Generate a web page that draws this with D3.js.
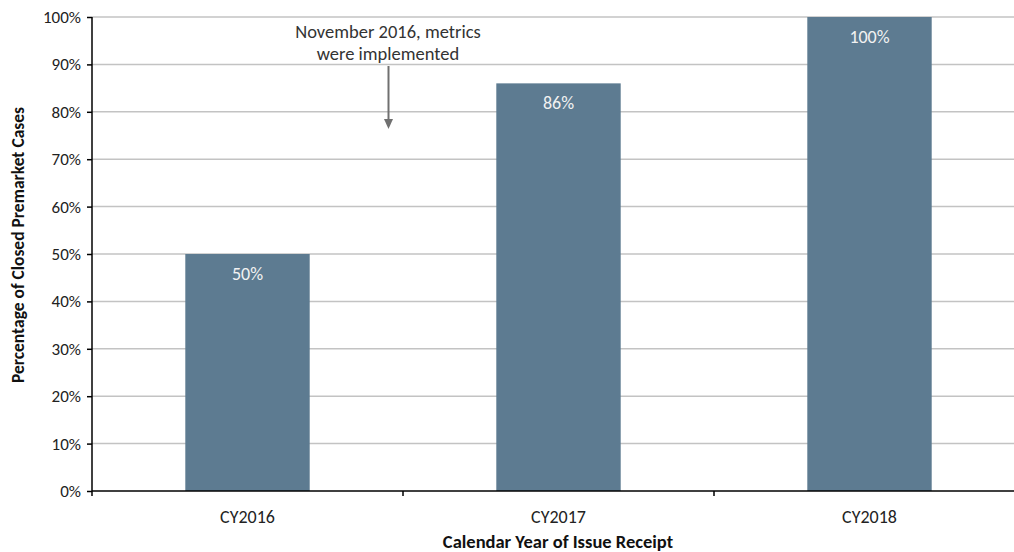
<!DOCTYPE html>
<html>
<head>
<meta charset="utf-8">
<script src="https://cdnjs.cloudflare.com/ajax/libs/d3/7.8.5/d3.min.js"></script>
<style>
  body { margin: 0; background: #fff; }
  text { font-family: Carlito, Calibri, Lato, "Open Sans", sans-serif; }
</style>
</head>
<body>
<svg id="chart"></svg>
<script>
// data
var categories = ["CY2016", "CY2017", "CY2018"];
var values = [50, 86, 100];
var yTicks = [0, 10, 20, 30, 40, 50, 60, 70, 80, 90, 100];
var noteLines = ["November 2016, metrics", "were implemented"];

var width = 1014, height = 552;
var plotLeft = 92, plotRight = 1025, plotTop = 17, plotBottom = 491;
var BarColor = "#5d7b91", GridColor = "#c3c3c3", TextColor = "#222", ArrowColor = "#707070";
var fontSize = "18px";

var svg = d3.select("#chart")
    .attr("width", width)
    .attr("height", height);

var x = d3.scaleBand()
    .domain(categories)
    .range([plotLeft, plotRight])
    .paddingInner(0.6)
    .paddingOuter(0.3);

var y = d3.scaleLinear()
    .domain([0, 100])
    .range([plotBottom, plotTop]);

// gridlines
svg.append("g")
    .selectAll("line")
    .data(yTicks.filter(function(d) { return d > 0; }))
    .enter().append("line")
    .attr("x1", plotLeft)
    .attr("x2", plotRight)
    .attr("y1", function(d) { return y(d); })
    .attr("y2", function(d) { return y(d); })
    .attr("stroke", GridColor)
    .attr("stroke-width", 1.5);

// bars
svg.append("g")
    .selectAll("rect")
    .data(values)
    .enter().append("rect")
    .attr("x", function(d, i) { return x(categories[i]); })
    .attr("y", function(d) { return y(d); })
    .attr("width", x.bandwidth())
    .attr("height", function(d) { return plotBottom - y(d); })
    .attr("fill", BarColor);

// bar labels
svg.append("g")
    .selectAll("text")
    .data(values)
    .enter().append("text")
    .attr("x", function(d, i) { return x(categories[i]) + x.bandwidth() / 2; })
    .attr("y", function(d) { return y(d) + 26; })
    .attr("text-anchor", "middle")
    .attr("fill", "#f2f2f2")
    .style("font-size", "18px")
    .text(function(d) { return d + "%"; });

// y axis
var yAxis = svg.append("g")
    .attr("transform", "translate(" + plotLeft + ",0)")
    .call(d3.axisLeft(y).tickValues(yTicks).tickSize(5).tickPadding(6)
        .tickFormat(function(d) { return d + "%"; }));
yAxis.select(".domain").attr("stroke", "#000").attr("stroke-width", 1.5)
    .attr("d", "M0," + plotTop + "V" + plotBottom);
yAxis.selectAll(".tick line").attr("stroke", "#000").attr("stroke-width", 1.5);
yAxis.selectAll(".tick text").style("font-size", "17px").attr("fill", TextColor)
    .style("font-family", "Carlito, Calibri, Lato, sans-serif");

// x axis, ticks at the band boundaries
svg.append("line")
    .attr("x1", plotLeft).attr("x2", plotRight)
    .attr("y1", plotBottom).attr("y2", plotBottom)
    .attr("stroke", "#000").attr("stroke-width", 1.5);
var step = x.step();
var edges = categories.slice(1).map(function(c) { return x(c) - x.paddingInner() * step / 2; });
svg.append("g")
    .selectAll("line")
    .data([plotLeft].concat(edges))
    .enter().append("line")
    .attr("x1", function(d) { return d; })
    .attr("x2", function(d) { return d; })
    .attr("y1", plotBottom)
    .attr("y2", plotBottom + 5)
    .attr("stroke", "#000")
    .attr("stroke-width", 1.5);
svg.append("g")
    .selectAll("text")
    .data(categories)
    .enter().append("text")
    .attr("x", function(d) { return x(d) + x.bandwidth() / 2; })
    .attr("y", 523)
    .attr("text-anchor", "middle")
    .attr("fill", TextColor)
    .style("font-size", fontSize)
    .text(function(d) { return d; });

// axis titles
svg.append("text")
    .attr("x", 558)
    .attr("y", 548)
    .attr("text-anchor", "middle")
    .style("font-size", "18.5px")
    .style("font-weight", "bold")
    .attr("fill", "#111")
    .text("Calendar Year of Issue Receipt");
svg.append("text")
    .attr("transform", "translate(24,245) rotate(-90)")
    .attr("text-anchor", "middle")
    .style("font-size", "17.5px")
    .style("font-weight", "bold")
    .attr("fill", "#111")
    .text("Percentage of Closed Premarket Cases");

// annotation
var note = svg.append("text")
    .attr("x", 388)
    .attr("y", 38)
    .attr("text-anchor", "middle")
    .attr("fill", "#333")
    .style("font-size", "18.5px");
note.selectAll("tspan")
    .data(noteLines)
    .enter().append("tspan")
    .attr("x", 388)
    .attr("dy", function(d, i) { return i === 0 ? 0 : 21.5; })
    .text(function(d) { return d; });

svg.append("line")
    .attr("x1", 388.5).attr("x2", 388.5)
    .attr("y1", 66).attr("y2", 120)
    .attr("stroke", ArrowColor)
    .attr("stroke-width", 2);
svg.append("polygon")
    .attr("points", (388.5 - 4.5) + " 119, " + (388.5 + 4.5) + " 119, 388.5 129")
    .attr("fill", ArrowColor);
</script>
</body>
</html>
